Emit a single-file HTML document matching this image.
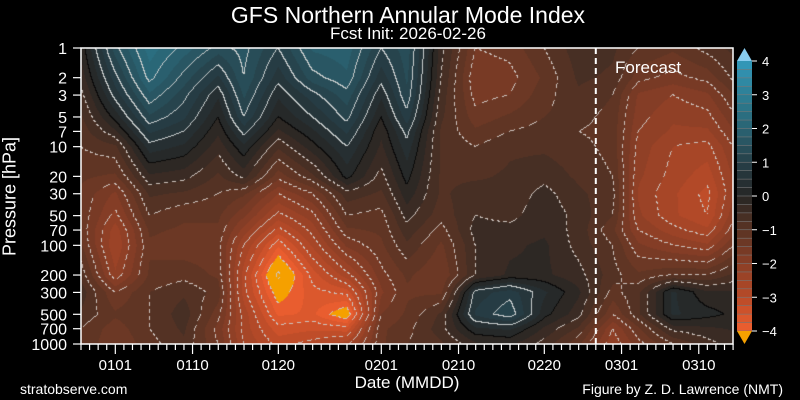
<!DOCTYPE html>
<html><head><meta charset="utf-8"><style>
body{margin:0;background:#000;width:800px;height:400px;overflow:hidden;font-family:"Liberation Sans",sans-serif;color:#fff}
#root{position:relative;width:800px;height:400px}
.t{position:absolute;white-space:nowrap;color:#fff}
</style></head><body><div id="root">
<div class="t" style="left:0;width:816px;text-align:center;top:2px;font-size:23px">GFS Northern Annular Mode Index</div>
<div class="t" style="left:0;width:816px;text-align:center;top:24px;font-size:17px">Fcst Init: 2026-02-26</div>
<div class="t" style="left:-50px;top:186px;width:120px;text-align:center;font-size:18px;transform:rotate(-90deg)">Pressure [hPa]</div>
<div class="t" style="left:307px;width:200px;text-align:center;top:373px;font-size:17px">Date (MMDD)</div>
<div class="t" style="left:20px;top:381px;font-size:14px">stratobserve.com</div>
<div class="t" style="right:17px;top:381px;font-size:14px">Figure by Z. D. Lawrence (NMT)</div>
<canvas id="cv" width="652" height="296" style="position:absolute;left:81px;top:48px"></canvas>
<svg id="sv" width="800" height="400" style="position:absolute;left:0;top:0"></svg>
</div>
<script>
const days=[0,4,8,12,16,19,23,27,31,35,38,42,46,50,54,58,62,65,69,73,77];
const levels=[1,2,3,5,7,10,20,30,50,70,100,200,300,500,700,1000];
const nam=[
[-0.2,-0.4,-0.6,-0.8,-0.9,-1.0,-1.2,-1.3,-1.3,-1.3,-1.2,-0.8,-0.6,-0.8,-1.0,-1.0],
[1.4,0.9,0.6,0.1,-0.3,-0.8,-1.3,-1.8,-2.1,-2.4,-2.5,-2.2,-1.5,-1.2,-1.4,-1.5],
[2.4,2.1,1.7,1.2,0.8,0.4,-0.3,-0.7,-1.0,-1.2,-1.3,-1.2,-1.0,-1.0,-1.0,-1.1],
[1.9,1.4,1.1,0.8,0.5,0.2,-0.4,-0.8,-1.2,-1.3,-1.4,-1.1,-0.8,-0.6,-0.7,-0.8],
[1.4,0.7,0.3,0.0,-0.2,-0.4,-0.8,-1.0,-1.2,-1.3,-1.4,-1.3,-1.1,-1.4,-1.6,-1.5],
[1.6,1.5,1.3,1.0,0.6,0.2,-0.4,-1.2,-1.7,-2.1,-2.5,-2.9,-2.9,-2.6,-2.6,-2.5],
[1.0,0.6,0.3,0.0,-0.3,-0.7,-1.4,-2.0,-2.6,-3.1,-3.7,-4.6,-4.2,-3.8,-3.4,-3.1],
[1.8,1.4,0.9,0.5,0.2,-0.1,-0.8,-1.5,-2.1,-2.4,-2.7,-3.4,-3.6,-3.7,-3.3,-2.9],
[1.9,1.7,1.4,1.1,0.8,0.5,0.1,-0.6,-1.0,-1.3,-1.7,-2.6,-3.4,-4.3,-3.4,-2.6],
[1.0,0.6,0.3,0.0,-0.2,-0.3,-0.6,-0.8,-1.1,-1.2,-1.3,-1.6,-1.8,-1.5,-1.3,-1.3],
[1.4,1.3,1.2,0.9,0.6,0.4,0.1,-0.1,-0.4,-0.6,-0.8,-1.2,-1.3,-1.2,-1.1,-1.0],
[-0.4,-0.5,-0.6,-0.7,-0.8,-0.8,-0.8,-0.8,-0.9,-1.1,-1.3,-1.5,-1.3,-0.7,-0.6,-0.8],
[-1.5,-1.7,-1.6,-1.4,-1.2,-1.0,-0.8,-0.6,-0.5,-0.4,-0.5,-0.5,0.6,0.8,0.2,-0.3],
[-1.4,-1.6,-1.5,-1.2,-1.0,-0.8,-0.7,-0.7,-0.6,-0.4,-0.3,-0.2,0.9,1.2,0.3,-0.2],
[-1.0,-1.2,-1.1,-1.0,-0.9,-0.8,-0.6,-0.4,-0.3,-0.3,-0.2,-0.2,0.3,0.1,-0.3,-0.6],
[-0.6,-0.7,-0.8,-0.9,-1.0,-0.9,-0.8,-0.7,-0.6,-0.6,-0.6,-0.4,-0.2,-0.4,-0.8,-1.2],
[-0.7,-0.8,-1.0,-1.1,-1.1,-1.1,-1.0,-0.9,-1.0,-1.2,-1.0,-0.9,-1.1,-1.5,-2.0,-2.2],
[-1.0,-1.4,-1.8,-1.9,-2.0,-2.1,-2.2,-2.3,-2.2,-2.0,-1.7,-1.2,-0.8,-0.8,-1.3,-1.6],
[-1.2,-1.6,-2.0,-2.2,-2.3,-2.5,-2.6,-2.7,-2.7,-2.4,-2.0,-1.0,0.3,0.3,-0.4,-1.0],
[-0.9,-1.4,-1.8,-2.1,-2.3,-2.6,-2.9,-3.1,-3.0,-2.7,-2.2,-1.0,-0.2,0.1,-0.3,-0.6],
[-0.6,-0.8,-1.1,-1.4,-1.6,-1.8,-2.0,-2.0,-1.8,-1.6,-1.3,-0.6,-0.2,-0.1,-0.2,-0.3]];
const tickDays=[4,13,23,35,44,54,63,72];
const tickLabels=['0101','0110','0120','0201','0210','0220','0301','0310'];
const yTicks=[1,2,3,5,7,10,20,30,50,70,100,200,300,500,700,1000];
const cbTicks=[4,3,2,1,0,-1,-2,-3,-4];
const cbLabels=['4','3','2','1','0','\u22121','\u22122','\u22123','\u22124'];
const forecastDay=60;
const X0=81,Y0=48,W=652,H=296,DX=8.58;
const xs=d=>X0+d*DX;
const ys=p=>Y0+H*Math.log10(p)/3;
const stops=[[-4,[240,96,48]],[-3,[184,74,40]],[-2,[138,62,38]],[-1,[90,52,36]],[0,[38,38,36]],[1,[38,63,72]],[2,[42,99,115]],[3,[45,127,149]],[4,[51,153,187]]];
function col(v){v=Math.max(-4,Math.min(3.999,v));for(let i=0;i<stops.length-1;i++){const a=stops[i],b=stops[i+1];if(v>=a[0]&&v<=b[0]){const t=(v-a[0]);return a[1].map((c,k)=>Math.round(c+(b[1][k]-c)*t));}}return stops[0][1];}
function field(px,py){
 const d=px/DX;let i=0;while(i<days.length-2&&days[i+1]<d)i++;
 let tx=(d-days[i])/(days[i+1]-days[i]);tx=Math.max(0,Math.min(1,tx));
 const lp=py/H*3;const ll=levels.map(p=>Math.log10(p));let j=0;while(j<ll.length-2&&ll[j+1]<lp)j++;
 let ty=(lp-ll[j])/(ll[j+1]-ll[j]);ty=Math.max(0,Math.min(1,ty));
 const a=nam[i][j],b=nam[i+1][j],c=nam[i][j+1],e=nam[i+1][j+1];
 return a*(1-tx)*(1-ty)+b*tx*(1-ty)+c*(1-tx)*ty+e*tx*ty;}
const cv=document.getElementById('cv'),ctx=cv.getContext('2d');
const img=ctx.createImageData(W,H);const F=[];
for(let y=0;y<H;y++){F.push(new Float32Array(W));for(let x=0;x<W;x++)F[y][x]=field(x+0.5,y+0.5);}
const q=v=>Math.floor(v*2);
for(let y=0;y<H;y++)for(let x=0;x<W;x++){
 const v=F[y][x];let c;
 if(v<-4)c=[245,160,0];else c=col(Math.floor(v*4)/4+0.125);
 const fl=q(v);let line=false;
 const r=x<W-1?q(F[y][x+1]):fl,b=y<H-1?q(F[y+1][x]):fl;
 if(r!==fl||b!==fl){const lv=Math.max(fl,r,b)/2;
  if(lv===0)c=[10,10,10];else if(lv>0)c=[200,205,205];else if(((x+y)%7)<4)c=[205,195,190];}
 const k=(y*W+x)*4;img.data[k]=c[0];img.data[k+1]=c[1];img.data[k+2]=c[2];img.data[k+3]=255;}
ctx.putImageData(img,0,0);
const sv=document.getElementById('sv'),NS='http://www.w3.org/2000/svg';
function mk(t,a,p){const e=document.createElementNS(NS,t);for(const k in a)e.setAttribute(k,a[k]);(p||sv).appendChild(e);return e;}
const fr=mk('rect',{x:X0,y:Y0,width:W,height:H,fill:'none',stroke:'#fff','stroke-width':1.5});


const fc=mk('line',{x1:xs(forecastDay),x2:xs(forecastDay),y1:Y0,y2:Y0+H,stroke:'#fff','stroke-width':2,'stroke-dasharray':'6,4'});


const ft=mk('text',{x:615,y:73,fill:'#fff','font-size':17});ft.textContent='Forecast';


for(let d=0;d<=76;d++){const t=mk('line',{x1:xs(d),x2:xs(d),y1:Y0+H,y2:Y0+H+(tickDays.includes(d)?10:6),stroke:'#fff','stroke-width':1.2});

}
tickDays.forEach((d,i)=>{const t=mk('text',{x:xs(d),y:370,fill:'#fff','font-size':15,'text-anchor':'middle'});t.textContent=tickLabels[i];

});
yTicks.forEach(p=>{mk('line',{x1:X0-8,x2:X0,y1:ys(p),y2:ys(p),stroke:'#fff','stroke-width':1.2});
const t=mk('text',{x:X0-14,y:ys(p)+6,fill:'#fff','font-size':16,'text-anchor':'end'});t.textContent=p;

});
const CT=61,CB=331,cbx=737,cbw=15;const cy=v=>CB-(v+4)/8*(CB-CT);
for(let v=-4;v<4;v+=0.25){const c=col(v+0.125);const r=mk('rect',{x:cbx,y:cy(v+0.25),width:cbw,height:cy(v)-cy(v+0.25)+0.3,fill:`rgb(${c})`});


mk('line',{x1:cbx,x2:cbx+cbw,y1:cy(v),y2:cy(v),stroke:'#777','stroke-width':0.6});}
const ua=mk('polygon',{points:`${cbx},${CT} ${cbx+cbw/2},${CT-13} ${cbx+cbw},${CT}`,fill:'#88ccee'});


const da=mk('polygon',{points:`${cbx},${CB} ${cbx+cbw/2},${CB+13} ${cbx+cbw},${CB}`,fill:'#f5a000'});


cbTicks.forEach((v,i)=>{mk('line',{x1:cbx+cbw,x2:cbx+cbw+5,y1:cy(v),y2:cy(v),stroke:'#fff'});
const t=mk('text',{x:cbx+cbw+10,y:cy(v)+5,fill:'#fff','font-size':13});t.textContent=cbLabels[i];

});
</script></body></html>
